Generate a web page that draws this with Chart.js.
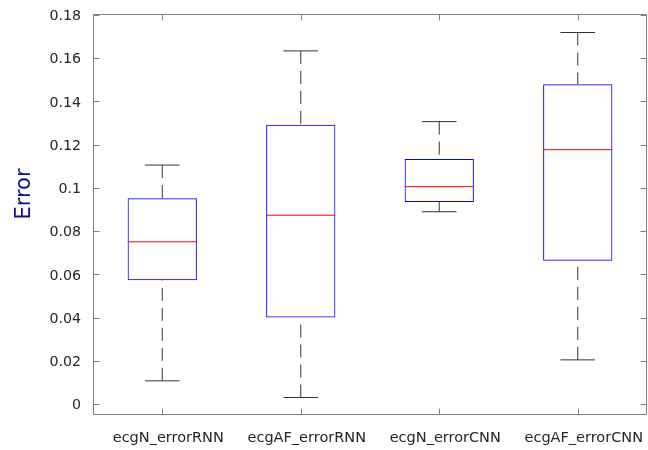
<!DOCTYPE html>
<html>
<head>
<meta charset="utf-8">
<script src="https://cdn.jsdelivr.net/npm/chart.js@4/dist/chart.umd.min.js"></script>
<style>
  html, body { margin: 0; padding: 0; background: #ffffff; }
  #wrap { width: 648px; height: 450px; }
</style>
</head>
<body>
<div id="wrap"><canvas id="c" width="648" height="450"></canvas></div>
<script>
// ---- data ----
const categories  = ['ecgN_errorRNN', 'ecgAF_errorRNN', 'ecgN_errorCNN', 'ecgAF_errorCNN'];
const whiskerLow  = [0.0108, 0.0031, 0.0890, 0.0205];
const q1          = [0.0573, 0.0401, 0.0935, 0.0663];
const medians     = [0.0751, 0.0874, 0.1006, 0.1177];
const q3          = [0.0952, 0.1292, 0.1134, 0.1480];
const whiskerHigh = [0.1106, 0.1634, 0.1307, 0.1719];
const yTickValues = [0, 0.02, 0.04, 0.06, 0.08, 0.1, 0.12, 0.14, 0.16, 0.18];
const yTickLabels = ['0', '0.02', '0.04', '0.06', '0.08', '0.1', '0.12', '0.14', '0.16', '0.18'];
const yTitle = 'Error';

Chart.defaults.font.family = '"DejaVu Sans", sans-serif';

const boxData = categories.map((c, i) => ({ x: i + 1, y: [q1[i], q3[i]] }));
const medianData = categories.map((c, i) => ({ x: i + 1, y: medians[i] }));
const capData = [];
const whiskerData = [];
categories.forEach((c, i) => {
  capData.push({ x: i + 1, y: whiskerHigh[i] }, { x: i + 1, y: whiskerLow[i] });
  whiskerData.push(
    { x: i + 1, y: whiskerHigh[i] }, { x: i + 1, y: q3[i] }, { x: i + 1, y: null },
    { x: i + 1, y: whiskerLow[i] }, { x: i + 1, y: q1[i] }, { x: i + 1, y: null }
  );
});

const axisColor = '#808080';
const framePlugin = {
  id: 'frame',
  afterDraw(chart) {
    const { ctx, chartArea: a, scales } = chart;
    const L = Math.round(a.left) + 0.5, R = Math.round(a.right) - 0.5;
    const T = Math.round(a.top) - 0.5, B = Math.round(a.bottom) - 0.5, tl = 6;
    ctx.save();
    ctx.strokeStyle = axisColor;
    ctx.lineWidth = 1;
    ctx.beginPath();
    ctx.moveTo(L, T); ctx.lineTo(R, T); ctx.lineTo(R, B); ctx.lineTo(L, B); ctx.closePath();
    scales.y.ticks.forEach(t => {
      const p = Math.round(scales.y.getPixelForValue(t.value)) + 0.5;
      ctx.moveTo(L, p); ctx.lineTo(L + tl, p);
      ctx.moveTo(R, p); ctx.lineTo(R - tl, p);
    });
    scales.x.ticks.forEach(t => {
      const p = Math.round(scales.x.getPixelForValue(t.value)) + 0.5;
      ctx.moveTo(p, B); ctx.lineTo(p, B - tl);
      ctx.moveTo(p, T); ctx.lineTo(p, T + tl);
    });
    ctx.stroke();
    // y-axis title
    ctx.translate(25, 194);
    ctx.rotate(-Math.PI / 2);
    ctx.font = '21px "DejaVu Sans"';
    ctx.fillStyle = '#0c0c8c';
    ctx.textAlign = 'center';
    ctx.textBaseline = 'middle';
    ctx.fillText(yTitle, 0, 0);
    ctx.restore();
  }
};

new Chart(document.getElementById('c'), {
  type: 'bar',
  data: {
    datasets: [
      {
        type: 'line', label: 'median', data: medianData, order: 0,
        showLine: false, pointStyle: 'line', pointRadius: 34.6, pointHoverRadius: 34.6,
        pointBorderColor: '#ff0000', pointBorderWidth: 1, pointBackgroundColor: '#ff0000'
      },
      {
        type: 'bar', label: 'box', data: boxData, order: 1,
        backgroundColor: 'rgba(0,0,0,0)', borderColor: '#0000ff', borderWidth: 1,
        borderSkipped: false, categoryPercentage: 1, barPercentage: 0.5
      },
      {
        type: 'line', label: 'caps', data: capData, order: 2,
        showLine: false, pointStyle: 'line', pointRadius: 17.3, pointHoverRadius: 17.3,
        pointBorderColor: '#333333', pointBorderWidth: 1, pointBackgroundColor: '#333333'
      },
      {
        type: 'line', label: 'whiskers', data: whiskerData, order: 3,
        borderColor: '#333333', borderWidth: 1, borderDash: [13, 7],
        pointRadius: 0, pointHoverRadius: 0, spanGaps: false, fill: false, tension: 0
      }
    ]
  },
  options: {
    responsive: false,
    devicePixelRatio: 1,
    animation: false,
    events: [],
    layout: { autoPadding: false, padding: { left: 0, right: 1, top: 15, bottom: 0 } },
    plugins: { legend: { display: false }, tooltip: { enabled: false } },
    scales: {
      x: {
        type: 'linear', min: 0.5, max: 4.5, offset: false,
        grid: { display: false, drawTicks: false }, border: { display: false },
        afterBuildTicks(s) { s.ticks = categories.map((c, i) => ({ value: i + 1 })); },
        afterFit(s) { s.height = 35; s.paddingLeft = 0; s.paddingRight = 0; s.paddingTop = 0; s.paddingBottom = 0; },
        ticks: {
          autoSkip: false, maxRotation: 0, minRotation: 0, padding: 15, labelOffset: 6,
          color: '#262626', font: { size: 14.5 },
          callback: (v, i) => categories[i]
        }
      },
      y: {
        type: 'linear', min: -0.005, max: 0.18,
        grid: { display: false, drawTicks: false }, border: { display: false },
        afterBuildTicks(s) { s.ticks = yTickValues.map(v => ({ value: v })); },
        afterFit(s) { s.width = 93; s.paddingLeft = 0; s.paddingRight = 0; s.paddingTop = 0; s.paddingBottom = 0; },
        ticks: {
          autoSkip: false, padding: 12, labelOffset: 1.5,
          color: '#262626', font: { size: 14.2 },
          callback: (v, i) => yTickLabels[i]
        }
      }
    }
  },
  plugins: [framePlugin]
});
</script>
</body>
</html>
